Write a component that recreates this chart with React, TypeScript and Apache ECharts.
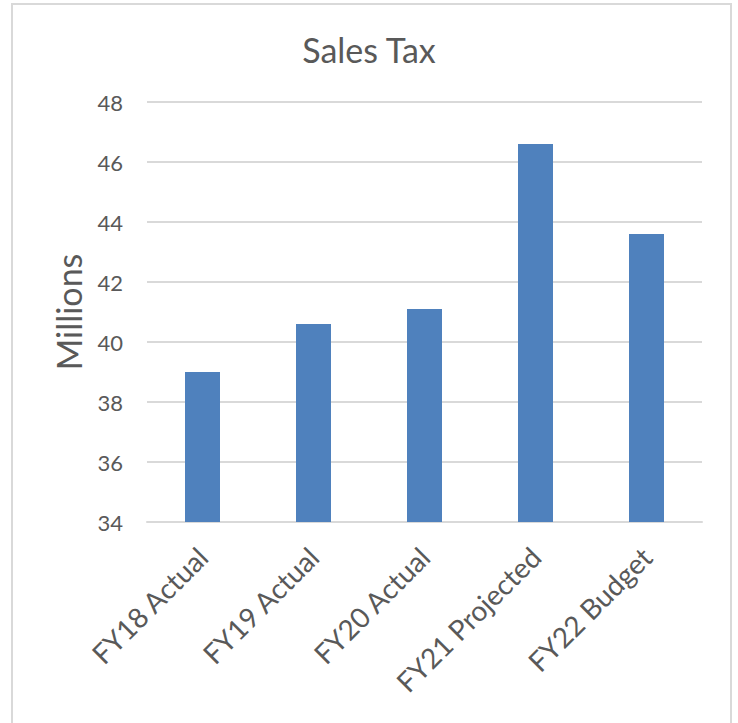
import React, { useEffect, useRef } from "react";
import * as echarts from "echarts";

const categories = ["FY18 Actual", "FY19 Actual", "FY20 Actual", "FY21 Projected", "FY22 Budget"];
const salesTax = [39.0, 40.6, 41.1, 46.6, 43.6];
const chartTitle = "Sales Tax";
const yAxisName = "Millions";

const FONT = "Lato, 'Open Sans', sans-serif";
const TEXT = "#595959";
const GRID = "#d9d9d9";

export default function App() {
  const ref = useRef<HTMLDivElement>(null);
  useEffect(() => {
    if (!ref.current) return;
    const chart = echarts.init(ref.current, null, { renderer: "svg" });
    chart.setOption({
      animation: false,
      backgroundColor: "#ffffff",
      textStyle: { fontFamily: FONT },
      title: {
        text: chartTitle,
        left: "center",
        top: 27,
        textStyle: { fontFamily: FONT, fontSize: 34, fontWeight: "normal", color: TEXT },
      },
      graphic: [
        {
          type: "rect",
          shape: { x: 12, y: 4, width: 719, height: 760 },
          style: { fill: "none", stroke: GRID, lineWidth: 2 },
          silent: true,
        },
      ],
      grid: { left: 147, right: 36, top: 102, bottom: 201 },
      xAxis: {
        type: "category",
        data: categories,
        axisLine: { show: true, lineStyle: { color: GRID, width: 2 } },
        axisTick: { show: false },
        axisLabel: {
          rotate: 45,
          interval: 0,
          margin: 30,
          fontFamily: FONT,
          fontSize: 28,
          color: TEXT,
        },
      },
      yAxis: {
        type: "value",
        min: 34,
        max: 48,
        interval: 2,
        name: yAxisName,
        nameLocation: "middle",
        nameRotate: 90,
        nameGap: 62,
        nameTextStyle: { fontFamily: FONT, fontSize: 34, color: TEXT },
        axisLine: { show: false },
        axisTick: { show: false },
        axisLabel: { margin: 24, fontFamily: FONT, fontSize: 22, color: TEXT },
        splitLine: { lineStyle: { color: GRID, width: 2 } },
      },
      series: [
        {
          type: "bar",
          data: salesTax,
          barWidth: 35,
          itemStyle: { color: "#4f81bd" },
        },
      ],
    });
    return () => chart.dispose();
  }, []);
  return (
    <div
      ref={ref}
      style={{ position: "fixed", left: 0, top: 0, width: 738, height: 723 }}
    />
  );
}
